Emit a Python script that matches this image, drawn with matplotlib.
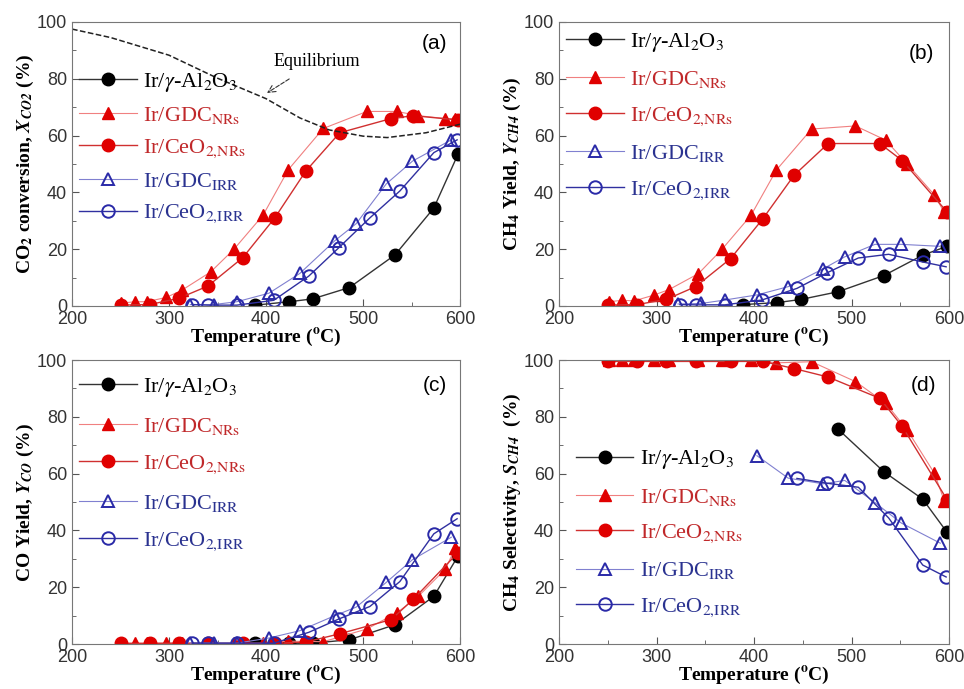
import numpy as np
import matplotlib.pyplot as plt
from matplotlib.ticker import MultipleLocator

plt.rcParams['mathtext.fontset'] = 'stix'
plt.rcParams['font.family'] = 'Liberation Sans'

# temperatures (deg C) for each catalyst
T_al = [389, 424, 448, 486, 533, 573, 598]
T_gdc_nr = [251, 265, 277, 297, 313, 343, 367, 397, 423, 459, 504, 535, 557, 585, 595]
T_ceo_nr = [250, 280, 310, 340, 376, 409, 441, 476, 529, 552, 598]
T_gdc_irr = [322, 346, 370, 403, 435, 471, 493, 524, 551, 591]
T_ceo_irr = [324, 340, 370, 408, 444, 475, 507, 538, 573, 597]

# (a) CO2 conversion
a_al = [0.3, 1.5, 2.5, 6.5, 18, 34.5, 53.5]
a_gdc_nr = [1, 1.5, 1.5, 3, 5.5, 12, 20, 32, 48, 62.5, 68.5, 68.5, 67, 66, 66]
a_ceo_nr = [0.3, 0.5, 2.7, 7, 17, 31, 47.5, 61, 66, 67, 65.5]
a_gdc_irr = [0.5, 0.5, 1.5, 4.5, 11.5, 23, 29, 43, 51, 58.5]
a_ceo_irr = [0.5, 0.3, 0.3, 2, 10.5, 20.5, 31, 40.5, 54, 58.5]
T_eq = [200, 240, 300, 350, 400, 435, 465, 500, 525, 565, 600]
X_eq = [97.5, 94.5, 88.3, 80.2, 73, 66.2, 62, 59.8, 59.3, 61, 64]

# (b) CH4 yield
b_al = [0.5, 1.2, 2.3, 5, 10.7, 17.9, 21]
b_gdc_nr = [1.5, 2, 1.8, 3.8, 5.8, 11.4, 19.9, 32, 47.9, 62.3, 63.4, 58.4, 50, 39.1, 33]
b_ceo_nr = [0.3, 0.5, 2.3, 6.8, 16.7, 30.7, 46, 57.2, 57.2, 51.2, 33.1]
b_gdc_irr = [0.7, 0.9, 2.1, 3.9, 6.8, 13.1, 17.3, 21.7, 21.7, 21]
b_ceo_irr = [0.5, 0.4, 0.4, 2.1, 6.2, 11.7, 16.9, 18.2, 15.5, 13.8]

# (c) CO yield
c_al = [0.2, 0.2, 0.3, 1.5, 6.8, 16.8, 31]
c_gdc_nr = [0.3, 0.3, 0.3, 0.3, 0.3, 0.3, 0.3, 0.3, 1, 0.8, 5.3, 11, 16.8, 26.4, 33.8]
c_ceo_nr = [0.2, 0.2, 0.3, 0.2, 0.2, 0.2, 0.7, 3.6, 8.6, 15.8, 32.2]
c_gdc_irr = [0.35, 0.35, 0.3, 2.1, 4.7, 10, 13, 21.7, 29.7, 37.6]
c_ceo_irr = [0.3, 0.3, 0.3, 0.3, 4.1, 8.8, 13.2, 22, 38.8, 44.1]

# (d) CH4 selectivity (only where measurable)
d_al = [75.7, 60.7, 51, 39.3]
d_gdc_nr = [100, 100, 100, 100, 100, 100, 100, 100, 99, 99.4, 92.4, 84.8, 75.4, 60.1, 50.5]
d_ceo_nr = [99.5, 99.5, 99.5, 99.5, 99.5, 99.5, 97, 94, 86.5, 76.6, 50.8]
d_gdc_irr = [66.3, 58.4, 56.4, 57.6, 49.8, 42.6, 35.5]
d_ceo_irr = [58.3, 56.6, 55.2, 44.4, 27.8, 23.6]

labels = [r'Ir/$\gamma$-Al$_2$O$_3$', r'Ir/GDC$_{\mathrm{NRs}}$', r'Ir/CeO$_{2{,}\mathrm{NRs}}$',
          r'Ir/GDC$_{\mathrm{IRR}}$', r'Ir/CeO$_{2{,}\mathrm{IRR}}$']
red = '#e00000'
blue = '#2a2aa8'
txt_colors = ['black', '#c0282a', '#c0282a', '#2a3290', '#2a3290']

fig = plt.figure(figsize=(9.64, 6.89), dpi=100)
pos = {'a': [0.0747, 0.5559, 0.4025, 0.4122],
       'b': [0.5799, 0.5559, 0.4046, 0.4122],
       'c': [0.0747, 0.0653, 0.4025, 0.4122],
       'd': [0.5799, 0.0653, 0.4046, 0.4122]}

ylabels = {'a': r'CO$_\mathbf{2}$ conversion, $\mathbfit{X}_{\mathbfit{CO2}}$ (%)',
           'b': r'CH$_\mathbf{4}$ Yield, $\mathbfit{Y}_{\mathbfit{CH4}}$ (%)',
           'c': r'CO Yield, $\mathbfit{Y}_{\mathbfit{CO}}$ (%)',
           'd': r'CH$_\mathbf{4}$ Selectivity, $\mathbfit{S}_{\mathbfit{CH4}}$  (%)'}

data = {'a': (a_al, a_gdc_nr, a_ceo_nr, a_gdc_irr, a_ceo_irr),
        'b': (b_al, b_gdc_nr, b_ceo_nr, b_gdc_irr, b_ceo_irr),
        'c': (c_al, c_gdc_nr, c_ceo_nr, c_gdc_irr, c_ceo_irr),
        'd': (d_al, d_gdc_nr, d_ceo_nr, d_gdc_irr, d_ceo_irr)}

leg_anchor = {'a': (-0.005, 0.86), 'b': (-0.005, 1.0), 'c': (-0.005, 0.975), 'd': (0.02, 0.72)}
leg_space = {'a': 0.5, 'b': 0.68, 'c': 0.75, 'd': 0.68}
panel_xy = {'a': (0.935, 0.925), 'b': (0.93, 0.89), 'c': (0.935, 0.91), 'd': (0.935, 0.91)}

for key in ['a', 'b', 'c', 'd']:
    ax = fig.add_axes(pos[key])
    al, gnr, cnr, girr, cirr = data[key]
    ta = T_al[-len(al):]
    tg = T_gdc_irr[-len(girr):]
    tc = T_ceo_irr[-len(cirr):]
    h1, = ax.plot(ta, al, '-o', color='#333333', lw=1, mfc='black', mec='black', ms=9)
    h2, = ax.plot(T_gdc_nr, gnr, '-^', color='#f08080', lw=0.8, mfc=red, mec=red, ms=9)
    h3, = ax.plot(T_ceo_nr, cnr, '-o', color='#d03030', lw=1, mfc=red, mec=red, ms=9)
    h4, = ax.plot(tg, girr, '-^', color='#8080d0', lw=0.8, mfc='none', mec=blue, mew=1.4, ms=9)
    h5, = ax.plot(tc, cirr, '-o', color='#3030a0', lw=1, mfc='none', mec=blue, mew=1.4, ms=9)
    if key == 'a':
        ax.plot(T_eq, X_eq, '--', color='#222222', lw=1.1)
        ax.annotate('Equilibrium', xy=(401, 75), xytext=(452, 86),
                    fontsize=13, family='Liberation Serif', ha='center', va='center',
                    arrowprops=dict(arrowstyle='->', ls='--', color='#333333', lw=0.8,
                                    shrinkA=8, shrinkB=0))
    ax.set_xlim(200, 600)
    ax.set_ylim(0, 100)
    ax.xaxis.set_major_locator(MultipleLocator(100))
    ax.xaxis.set_minor_locator(MultipleLocator(50))
    ax.yaxis.set_major_locator(MultipleLocator(20))
    ax.yaxis.set_minor_locator(MultipleLocator(10))
    ax.tick_params(which='both', direction='in', labelsize=13, colors='#555555',
                   labelcolor='#333333', top=False, right=False)
    ax.tick_params(which='major', length=5)
    ax.tick_params(which='minor', length=3)
    for s in ax.spines.values():
        s.set_color('#777777')
    ax.set_xlabel(r'Temperature ($^\mathbf{o}$C)', family='Liberation Serif',
                  fontweight='bold', fontsize=14, labelpad=-1)
    ax.set_ylabel(ylabels[key], family='Liberation Serif', fontweight='bold',
                  fontsize=14, labelpad=1)
    leg = ax.legend([h1, h2, h3, h4, h5], labels, loc='upper left',
                    bbox_to_anchor=leg_anchor[key], frameon=False,
                    prop={'family': 'Liberation Serif', 'size': 16},
                    handlelength=2.6, handletextpad=0.3, labelspacing=leg_space[key],
                    borderaxespad=0)
    for t, c in zip(leg.get_texts(), txt_colors):
        t.set_color(c)
    ax.text(panel_xy[key][0], panel_xy[key][1], '(%s)' % key, transform=ax.transAxes,
            fontsize=15, ha='center', va='center')

fig.savefig('out.png', dpi=100)
